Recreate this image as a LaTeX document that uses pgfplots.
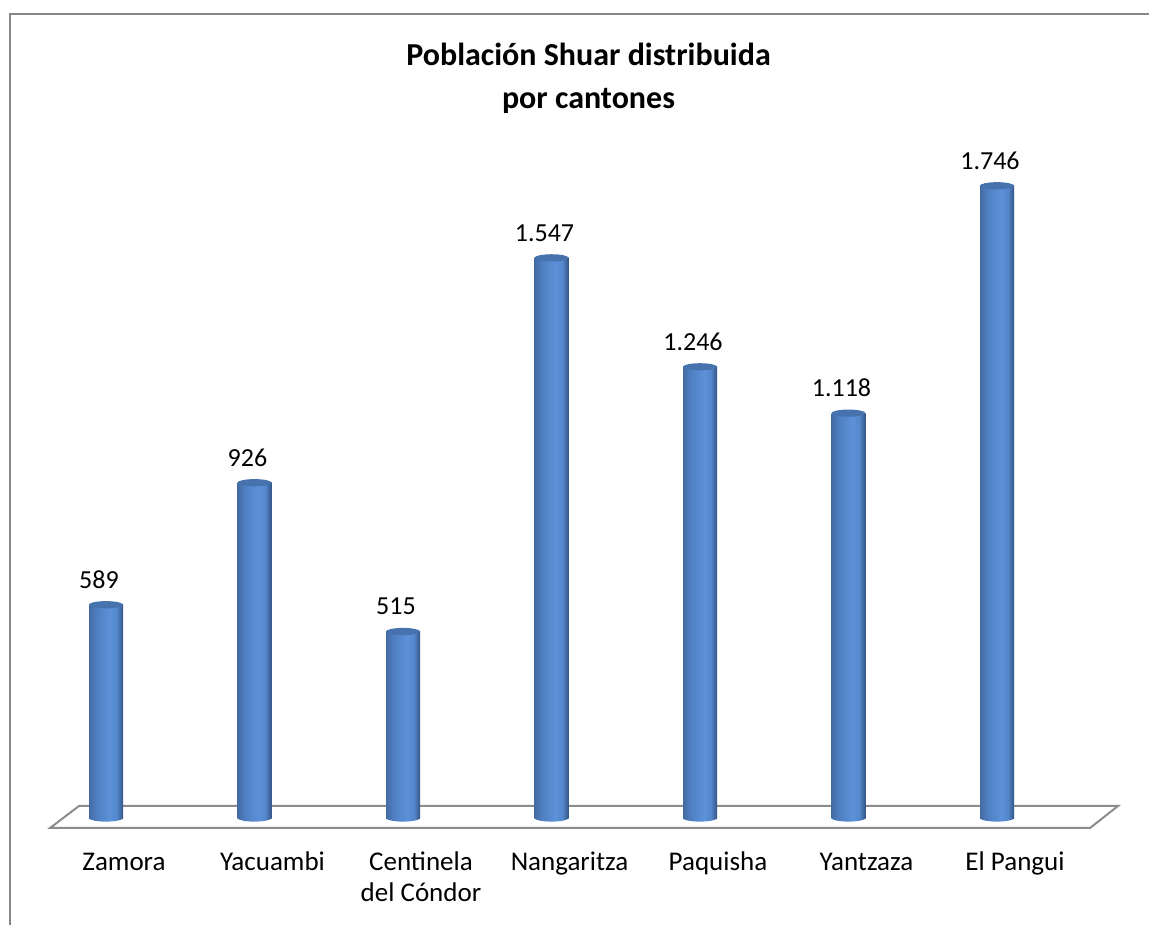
\documentclass[border=0pt]{standalone}
\usepackage{pgfplots}
\usepackage{pgfplotstable}
\pgfplotsset{compat=1.18}
\usepackage{fontspec}
\setmainfont{Carlito}

\definecolor{capblue}{RGB}{70,114,174}
\definecolor{framegray}{RGB}{134,134,134}
\definecolor{floorgray}{RGB}{140,140,140}

% cylinder look: dark edges, light band right of centre
\pgfdeclarehorizontalshading{cyl}{100bp}{
  rgb(0bp)=(0.26,0.42,0.64); rgb(25bp)=(0.26,0.42,0.64);
  rgb(36bp)=(0.31,0.50,0.76); rgb(56bp)=(0.36,0.57,0.85);
  rgb(66bp)=(0.33,0.53,0.80); rgb(75bp)=(0.20,0.33,0.52);
  rgb(100bp)=(0.20,0.33,0.52)}

\pgfdeclareplotmark{cyltop}{%
  \pgfpathellipse{\pgfpointorigin}{\pgfqpoint{8.5pt}{0pt}}{\pgfqpoint{0pt}{1.8pt}}%
  \pgfusepathqfill}
\pgfdeclareplotmark{cylbot}{%
  \pgfpathellipse{\pgfpointorigin}{\pgfqpoint{8.5pt}{0pt}}{\pgfqpoint{0pt}{1.8pt}}%
  \pgfshadepath{cyl}{0}\pgfusepath{discard}}

\pgfplotstableread{
x y
0 589
1 926
2 515
3 1547
4 1246
5 1118
6 1746
}\shuar

\begin{document}
\begin{tikzpicture}
\useasboundingbox (0,0) rectangle (574.5pt,462.5pt);
% chart frame
\draw[framegray, line width=0.75pt] (5pt,0) -- (5pt,455.5pt) -- (574.5pt,455.5pt);
% title
\node[anchor=base, font=\fontsize{16}{21.5}\selectfont\bfseries] at (294.25pt,429.5pt) {Población Shuar distribuida};
\node[anchor=base, font=\fontsize{16}{21.5}\selectfont\bfseries] at (294.25pt,408pt) {por cantones};
% floor
\draw[floorgray, line width=1pt, fill=white] (39.5pt,59.5pt) -- (559pt,59.5pt) -- (545pt,48.5pt) -- (25pt,48.5pt) -- cycle;

\begin{axis}[
    at={(15.875pt,53.5pt)}, anchor=south west,
    scale only axis,
    width=519.75pt, height=362.1pt,
    xmin=-0.5, xmax=6.5,
    ymin=0, ymax=2000,
    clip=false,
    axis line style={draw=none},
    tick style={draw=none},
    major tick length=0pt,
    ytick=\empty,
    xtick={0,...,6},
    xticklabels={Zamora, Yacuambi,
      {\begin{tabular}[t]{@{}c@{}}Centinela\\del Cóndor\end{tabular}},
      Nangaritza, Paquisha, Yantzaza, El Pangui},
    xticklabel style={anchor=base, xshift=9pt, yshift=-26pt},
    tick label style={font=\fontsize{13.5}{15.5}\selectfont},
]
\addplot[only marks, mark=cylbot] table[x=x, y expr=0] {\shuar};
% one plot per bar so each cylinder gets its own shading
\pgfplotsinvokeforeach{0,...,6}{
  \addplot[ybar, bar width=17pt, draw=none, shading=cyl,
      restrict x to domain=#1:#1] table[x=x, y=y] {\shuar};
}
\addplot[only marks, mark=cyltop, color=capblue, mark options={fill=capblue, draw=none},
    point meta=y,
    nodes near coords={\pgfmathprintnumber[fixed, precision=0, 1000 sep={.}, assume math mode=true]{\pgfplotspointmeta}},
    every node near coord/.append style={font=\fontsize{13}{15.5}\selectfont, text=black,
        inner sep=0pt, xshift=-3.5pt, yshift=8pt}]
    table[x=x, y=y] {\shuar};
\end{axis}
\end{tikzpicture}
\end{document}
